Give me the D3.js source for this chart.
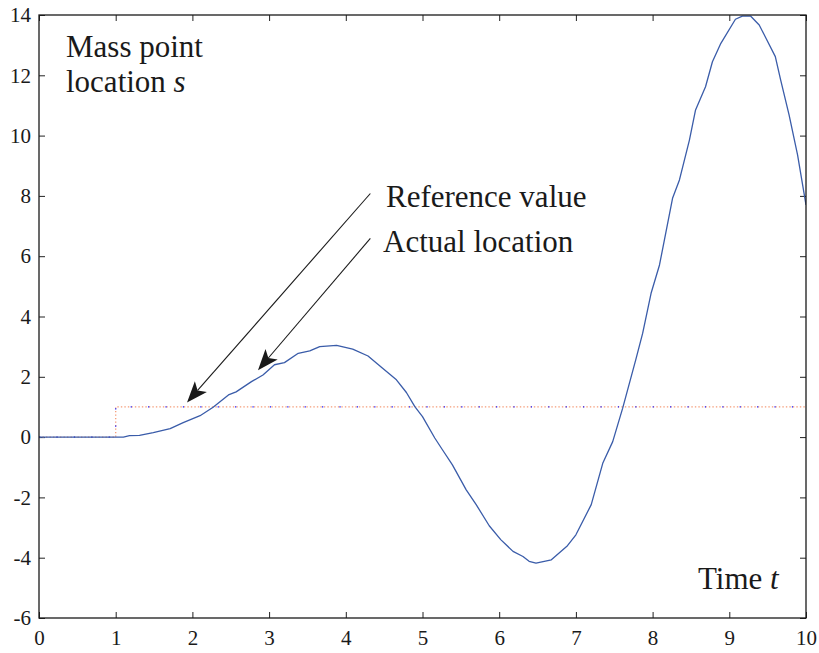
<!DOCTYPE html>
<html>
<head>
<meta charset="utf-8">
<script src="https://cdn.jsdelivr.net/npm/d3@7"></script>
<style>
  html, body { margin: 0; padding: 0; background: #fff; }
  svg { display: block; }
  text { font-family: "Liberation Serif", "Times New Roman", serif; fill: #1a1a1a; }
</style>
</head>
<body>
<svg id="chart" width="819" height="653"></svg>
<script>
// Time samples and simulated mass point location
const timeValues = [0, 1.10, 1.18, 1.31, 1.49, 1.71, 1.88, 2.10, 2.27, 2.47, 2.57, 2.77, 2.92, 3.07, 3.20, 3.38, 3.53, 3.66, 3.88, 4.09, 4.29, 4.48, 4.66, 4.79, 4.90, 5.00, 5.16, 5.26, 5.39, 5.57, 5.70, 5.87, 6.02, 6.18, 6.31, 6.39, 6.48, 6.68, 6.89, 7.00, 7.20, 7.35, 7.48, 7.61, 7.78, 7.87, 7.98, 8.09, 8.26, 8.35, 8.48, 8.56, 8.69, 8.78, 8.89, 9.08, 9.17, 9.28, 9.39, 9.48, 9.60, 9.67, 9.78, 9.89, 10.0];
const locationValues = [0, 0, 0.05, 0.06, 0.15, 0.28, 0.48, 0.71, 0.99, 1.40, 1.50, 1.84, 2.06, 2.40, 2.47, 2.78, 2.86, 3.00, 3.04, 2.92, 2.69, 2.28, 1.90, 1.48, 1.01, 0.68, -0.03, -0.42, -0.92, -1.75, -2.24, -2.94, -3.40, -3.79, -3.96, -4.12, -4.18, -4.07, -3.60, -3.24, -2.24, -0.87, -0.15, 0.96, 2.56, 3.44, 4.77, 5.71, 7.92, 8.53, 9.85, 10.85, 11.62, 12.45, 13.06, 13.86, 13.96, 13.96, 13.67, 13.22, 12.62, 11.84, 10.68, 9.36, 7.70];

// Step reference: 0 until t = 1, then 1
const referenceTimes = [0, 1, 1, 10];
const referenceValues = [0, 0, 1, 1];

// Axis ticks
const xTicks = [0, 1, 2, 3, 4, 5, 6, 7, 8, 9, 10];
const yTicks = [-6, -4, -2, 0, 2, 4, 6, 8, 10, 12, 14];

// Annotation arrows: [tail t, tail s, head t, head s]
const arrowReference = [4.32, 8.08, 1.93, 1.15];
const arrowActual = [4.32, 6.59, 2.855, 2.22];

const svg = d3.select("#chart");
const plotLeft = 39, plotRight = 806, plotTop = 15, plotBottom = 618;

const x = d3.scaleLinear().domain([0, 10]).range([plotLeft, plotRight]);
const y = d3.scaleLinear().domain([-6, 14]).range([plotBottom, plotTop]);

const fmt = d => String(d);

// Axes with inward ticks on all four sides
const gB = svg.append("g").attr("transform", `translate(0,${plotBottom})`)
  .call(d3.axisBottom(x).tickValues(xTicks).tickSize(-6).tickPadding(12).tickFormat(fmt));
const gT = svg.append("g").attr("transform", `translate(0,${plotTop})`)
  .call(d3.axisTop(x).tickValues(xTicks).tickSize(-6).tickFormat(""));
const gL = svg.append("g").attr("transform", `translate(${plotLeft},0)`)
  .call(d3.axisLeft(y).tickValues(yTicks).tickSize(-6).tickPadding(8).tickFormat(fmt));
const gR = svg.append("g").attr("transform", `translate(${plotRight},0)`)
  .call(d3.axisRight(y).tickValues(yTicks).tickSize(-6).tickFormat(""));

[gB, gT, gL, gR].forEach(g => {
  g.select(".domain").remove();
  g.selectAll(".tick line").attr("stroke", "#222").attr("stroke-width", 1);
  g.selectAll(".tick text")
    .attr("font-family", "Liberation Serif, Times New Roman, serif")
    .attr("font-size", 21)
    .attr("fill", "#1a1a1a");
});

// Clip path for the plot area
svg.append("clipPath").attr("id", "plotClip")
  .append("rect").attr("x", plotLeft).attr("y", plotTop)
  .attr("width", plotRight - plotLeft).attr("height", plotBottom - plotTop);

const plot = svg.append("g").attr("clip-path", "url(#plotClip)");

// Reference step (dotted)
const refData = referenceTimes.map((t, i) => [t, referenceValues[i]]);
const refLine = d3.line().x(d => x(d[0])).y(d => y(d[1]));
plot.append("path").datum(refData)
  .attr("d", refLine)
  .attr("fill", "none")
  .attr("stroke", "#f59c78")
  .attr("stroke-width", 1.3)
  .attr("stroke-dasharray", "1.4,2.1");
plot.append("path").datum(refData)
  .attr("d", refLine)
  .attr("fill", "none")
  .attr("stroke", "#1a1aff")
  .attr("stroke-width", 1.2)
  .attr("stroke-dasharray", "1.2,16.2");

// Actual location curve
const locData = timeValues.map((t, i) => [t, locationValues[i]]);
plot.append("path").datum(locData)
  .attr("d", d3.line().x(d => x(d[0])).y(d => y(d[1])))
  .attr("fill", "none")
  .attr("stroke", "#3a5ca9")
  .attr("stroke-width", 1.3)
  .attr("stroke-linejoin", "round");

// Frame
svg.append("rect")
  .attr("x", plotLeft).attr("y", plotTop)
  .attr("width", plotRight - plotLeft).attr("height", plotBottom - plotTop)
  .attr("fill", "none").attr("stroke", "#1a1a1a").attr("stroke-width", 1.3);

// Arrows
function drawArrow(a) {
  const x0 = x(a[0]), y0 = y(a[1]), x1 = x(a[2]), y1 = y(a[3]);
  const ang = Math.atan2(y1 - y0, x1 - x0);
  const len = 21, half = 8, notch = 5;
  const ux = Math.cos(ang), uy = Math.sin(ang);
  const px = -uy, py = ux;
  const bx = x1 - ux * len, by = y1 - uy * len;
  const nx = x1 - ux * (len - notch), ny = y1 - uy * (len - notch);
  svg.append("line")
    .attr("x1", x0).attr("y1", y0).attr("x2", nx).attr("y2", ny)
    .attr("stroke", "#1a1a1a").attr("stroke-width", 1.1);
  svg.append("path")
    .attr("d", `M${x1},${y1} L${bx + px * half},${by + py * half} L${nx},${ny} L${bx - px * half},${by - py * half} Z`)
    .attr("fill", "#1a1a1a");
}
drawArrow(arrowReference);
drawArrow(arrowActual);

// Labels
const labelSize = 31;
const massLabel = svg.append("text").attr("x", 66).attr("y", 57).attr("font-size", labelSize);
massLabel.append("tspan").text("Mass point");
const locLabel = svg.append("text").attr("x", 66).attr("y", 92).attr("font-size", labelSize);
locLabel.append("tspan").text("location ");
locLabel.append("tspan").attr("font-style", "italic").text("s");

svg.append("text").attr("x", 386).attr("y", 207).attr("font-size", labelSize).text("Reference value");
svg.append("text").attr("x", 383).attr("y", 252).attr("font-size", labelSize).text("Actual location");

const timeLabel = svg.append("text").attr("x", 698).attr("y", 589).attr("font-size", labelSize);
timeLabel.append("tspan").text("Time ");
timeLabel.append("tspan").attr("font-style", "italic").text("t");
</script>
</body>
</html>
